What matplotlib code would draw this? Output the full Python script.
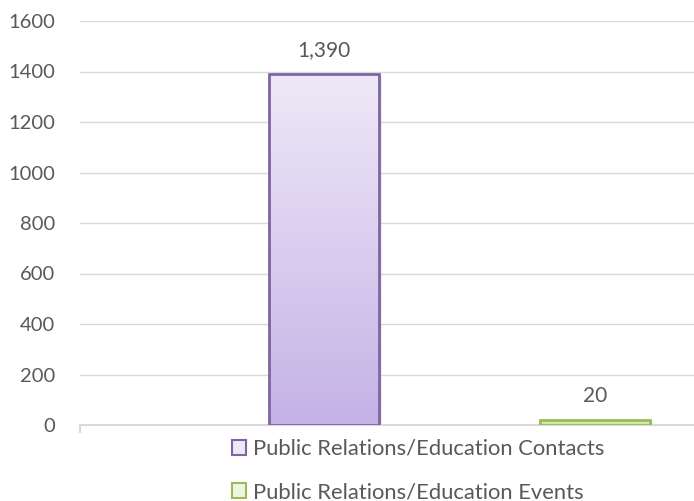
import numpy as np
import matplotlib.pyplot as plt
from matplotlib.colors import LinearSegmentedColormap
from matplotlib.patches import Rectangle

series = ["Public Relations/Education Contacts", "Public Relations/Education Events"]
values = [1390, 20]
value_labels = ["1,390", "20"]
y_ticks = [0, 200, 400, 600, 800, 1000, 1200, 1400, 1600]

edge_colors = ["#8064a2", "#9bbb59"]
grad_top = ["#eee9f8", "#eef6e0"]
grad_bottom = ["#c4b2e6", "#c9e39a"]

plt.rcParams["font.family"] = ["Lato", "DejaVu Sans"]

fig = plt.figure(figsize=(6.94, 5.01), dpi=100)
ax = fig.add_axes([80 / 694, 1 - 425 / 501, 1 - 80 / 694, (425 - 21) / 501])

positions = np.arange(len(values))
width = 0.406
ax.set_xlim(-0.9, 1.365)
ax.set_ylim(0, 1600)

for pos, val, lab, ec, ct, cb in zip(positions, values, value_labels,
                                     edge_colors, grad_top, grad_bottom):
    x0 = pos - width / 2
    # soft drop shadow
    ax.add_patch(Rectangle((x0 + 0.012, -6), width, val, facecolor="#000000",
                           alpha=0.08, edgecolor="none", zorder=2))
    # gradient fill
    cmap = LinearSegmentedColormap.from_list("g", [cb, ct])
    grad = np.linspace(0, 1, 256).reshape(-1, 1)
    ax.imshow(grad, cmap=cmap, aspect="auto", origin="lower",
              extent=(x0, x0 + width, 0, val), zorder=3)
    ax.add_patch(Rectangle((x0, 0), width, val, facecolor="none",
                           edgecolor=ec, linewidth=2, zorder=4))
    ax.text(pos, val + 95, lab, ha="center", va="center", fontsize=15,
            color="#595959", zorder=5)

ax.set_yticks(y_ticks)
ax.set_yticklabels([str(t) for t in y_ticks])
ax.grid(axis="y", color="#d9d9d9", linewidth=1)
ax.set_axisbelow(True)
ax.tick_params(axis="y", length=0, labelsize=14.5, labelcolor="#595959", pad=18)
ax.set_xticks([-0.9 + 0.0001])
ax.set_xticklabels([""])
ax.tick_params(axis="x", length=6, color="#d9d9d9", width=1.5, direction="out")
for side in ["top", "right", "left"]:
    ax.spines[side].set_visible(False)
ax.spines["bottom"].set_color("#d9d9d9")
ax.spines["bottom"].set_linewidth(1.5)

# legend entries stacked below the axis
handles = [Rectangle((0, 0), 1, 1, facecolor=ct, edgecolor=ec, linewidth=1.5)
           for ec, ct in zip(edge_colors, grad_top)]
leg = fig.legend(handles, series, loc="center", bbox_to_anchor=(418 / 694, 1 - 470.5 / 501),
                 ncol=1, frameon=False, fontsize=15.8, labelcolor="#595959",
                 handlelength=0.65, handleheight=0.65, handletextpad=0.3,
                 labelspacing=1.05)

fig.savefig("out.png", dpi=100)
